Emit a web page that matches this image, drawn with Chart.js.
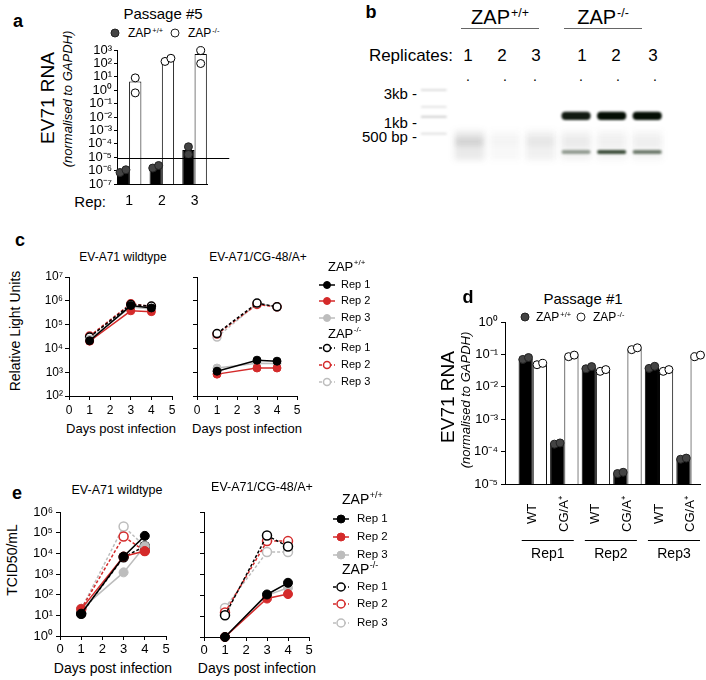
<!DOCTYPE html>
<html>
<head>
<meta charset="utf-8">
<title>ZAP / EV-A71 figure</title>
<script src="https://cdn.jsdelivr.net/npm/chart.js@4.4.0/dist/chart.umd.min.js"></script>
<style>
  html, body { margin: 0; padding: 0; background: #fff; }
  #page { position: relative; width: 706px; height: 680px; overflow: hidden;
          font-family: "Liberation Sans", Arial, Helvetica, sans-serif; color: #000; }
  #page canvas { position: absolute; }
  .t { position: absolute; white-space: nowrap; line-height: 1; }
  .t sup { font-size: 62%; position: relative; top: -0.55em; vertical-align: baseline; margin-left: 1px; }
  .dot { position: absolute; width: 7px; height: 7px; border-radius: 50%; border: 1px solid #222; transform: translate(-50%, -50%); }
  .rule { position: absolute; height: 0; border-top: 1px solid #666; }
</style>
</head>
<body>
<div id="page"></div>
<script>
// ---------- panel a : Passage #5 ----------
const aReps = [1, 2, 3];
const aZapPosBar = [8e-7, 1.7e-6, 3.5e-5];
const aZapPosPts = [[7.2e-7, 1.15e-6], [1.55e-6, 2.4e-6], [6e-5, 1.6e-5]];
const aZapNegBar = [4.5, 190, 500];
const aZapNegPts = [[8.3, 0.63], [140, 240], [900, 98]];
const aCutoff = 9e-6;
const aTicks = [1e-7, 1e-6, 1e-5, 1e-4, 1e-3, 1e-2, 1e-1, 1, 10, 100, 1000];

// ---------- panel b : gel ----------
const gelLanes = ['ladder', 'ZAP+/+ 1', 'ZAP+/+ 2', 'ZAP+/+ 3', 'ZAP-/- 1', 'ZAP-/- 2', 'ZAP-/- 3'];
const ladderBp = [3000, 1500, 1000, 500];
const ladderLevel = [0.22, 0.16, 0.3, 0.2];
const upperBandLanes = [4, 5, 6];
const upperBandBp = [880, 1230];
const upperBandLevel = [0.95, 1, 1];
const lowerBandBp = [218, 257];
const lowerBandLevel = [0.45, 0.85, 0.62];
const smearLanes = [1, 2, 3, 4, 5, 6];
const smearBp = [170, 560];
const smearLevel = [0.12, 0.04, 0.08, 0.07, 0.06, 0.06];
const smearCoreBp = [300, 430];
const smearCoreLevel = [0.12, 0.02, 0.05, 0.04, 0.02, 0.03];

// ---------- panel c : luciferase ----------
const days = [1, 3, 4];
const dayTicks = [0, 1, 2, 3, 4, 5];
const cTicks = [1e2, 1e3, 1e4, 1e5, 1e6, 1e7];
const cWtZapPos = [[2.1e4, 6.3e5, 5e5], [2e4, 3.8e5, 3.5e5], [2.4e4, 5.5e5, 4.5e5]];
const cWtZapNeg = [[3e4, 7e5, 6e5], [3.3e4, 7.5e5, 5.8e5], [2.8e4, 6.5e5, 5.5e5]];
const cCgZapPos = [[1.1e3, 3.2e3, 2.9e3], [8.3e2, 1.5e3, 1.5e3], [1.5e3, 2.4e3, 2.3e3]];
const cCgZapNeg = [[4.2e4, 8e5, 5.6e5], [4e4, 7e5, 5.6e5], [3e4, 7.5e5, 5.5e5]];

// ---------- panel d : Passage #1 ----------
const dCats = [1, 2, 3, 4, 5, 6];
const dCatLabels = ['WT', 'CG/A\u207A', 'WT', 'CG/A\u207A', 'WT', 'CG/A\u207A'];
const dGroups = ['Rep1', 'Rep2', 'Rep3'];
const dZapPosBar = [0.075, 1.8e-4, 0.04, 2.2e-5, 0.04, 6e-5];
const dZapPosPts = [[0.07, 0.08], [1.7e-4, 1.85e-4], [0.036, 0.042], [2.1e-5, 2.3e-5], [0.037, 0.043], [5.8e-5, 6.3e-5]];
const dZapNegBar = [0.05, 0.09, 0.032, 0.15, 0.032, 0.09];
const dZapNegPts = [[0.048, 0.053], [0.085, 0.095], [0.03, 0.034], [0.14, 0.16], [0.03, 0.034], [0.085, 0.095]];
const dTicks = [1e-5, 1e-4, 1e-3, 1e-2, 1e-1, 1];

// ---------- panel e : TCID50 ----------
const eTicks = [1, 10, 1e2, 1e3, 1e4, 1e5, 1e6];
const eWtZapPos = [[12, 7e3, 7e4], [20, 7e3, 1.3e4], [20, 1.2e3, 2.2e4]];
const eWtZapNeg = [[12, 6.5e3, 2.2e4], [20, 6.5e4, 1.3e4], [20, 2e5, 2.2e4]];
const eCgZapPos = [[1, 110, 400], [1, 70, 115], [1, 100, 230]];
const eCgZapNeg = [[11, 7.4e4, 2.2e4], [15, 4e4, 4e4], [25, 1.2e4, 1.2e4]];

// ---------- styling ----------
const FONT = '"Liberation Sans", Arial, Helvetica, sans-serif';
const repColors = ['#000000', '#d42a2a', '#bdbdbd'];
const SUP = {'-': '\u207B', '0': '\u2070', '1': '\u00B9', '2': '\u00B2', '3': '\u00B3', '4': '\u2074',
             '5': '\u2075', '6': '\u2076', '7': '\u2077', '8': '\u2078', '9': '\u2079'};
const pow10Label = v => '10' + String(Math.round(Math.log10(v))).split('').map(c => SUP[c]).join('');

Chart.defaults.font.family = FONT;
Chart.defaults.color = '#000';
Chart.defaults.animation = false;
Chart.defaults.events = [];
Chart.defaults.plugins.legend.display = false;
Chart.defaults.plugins.tooltip.enabled = false;

const page = document.getElementById('page');

function makeCanvas(box) {
  const c = document.createElement('canvas');
  c.width = box.w; c.height = box.h;
  c.style.left = box.x + 'px'; c.style.top = box.y + 'px';
  c.style.width = box.w + 'px'; c.style.height = box.h + 'px';
  page.appendChild(c);
  return c;
}

// box = canvas rect on the page, area = wanted chart area on the page
function frame(box, area) {
  return {
    yWidth: area.l - box.x,
    xHeight: box.y + box.h - area.b,
    padding: {left: 0, top: area.t - box.y, right: box.x + box.w - area.r, bottom: 0}
  };
}

function put(html, x, y, size, opt = {}) {
  const d = document.createElement('div');
  d.className = 't';
  d.innerHTML = html;
  d.style.left = x + 'px';
  d.style.top = y + 'px';
  d.style.fontSize = size + 'px';
  const a = opt.a || 'c';
  const tx = a === 'l' ? '0' : a === 'r' ? '-100%' : '-50%';
  d.style.transform = `translate(${tx}, -50%)` + (opt.rot ? ' rotate(-90deg)' : '');
  if (opt.bold) d.style.fontWeight = 'bold';
  if (opt.italic) d.style.fontStyle = 'italic';
  page.appendChild(d);
}
function dot(x, y, filled) {
  const d = document.createElement('div');
  d.className = 'dot';
  d.style.left = x + 'px'; d.style.top = y + 'px';
  d.style.background = filled ? '#444' : '#fff';
  page.appendChild(d);
}
function rule(x0, x1, y) {
  const d = document.createElement('div');
  d.className = 'rule';
  d.style.left = x0 + 'px'; d.style.top = y + 'px'; d.style.width = (x1 - x0) + 'px';
  page.appendChild(d);
}

const axisLine = {display: true, color: '#000', width: 1};
const tickMarks = len => ({display: true, drawOnChartArea: false, drawTicks: true, tickLength: len, color: '#000', lineWidth: 1});
const noGrid = {display: false, drawTicks: false};

function logAxis(min, max, ticks, width, labels, size, tickLen, pad) {
  return {
    type: 'logarithmic', min, max,
    afterBuildTicks: s => { s.ticks = ticks.map(v => ({value: v})); },
    afterFit: s => { s.width = width; },
    grid: tickMarks(tickLen),
    border: axisLine,
    ticks: {display: labels, autoSkip: false, padding: pad, font: {size}, callback: v => pow10Label(v)}
  };
}

// two replicate dots per bar; close values are spread sideways
function replicatePoints(xs, pts, shift) {
  const out = [];
  xs.forEach((x, i) => {
    const [p, q] = pts[i];
    const j = Math.abs(Math.log10(p) - Math.log10(q)) < 0.3 ? 0.09 : 0;
    out.push({x: x + shift - j, y: p}, {x: x + shift + j, y: q});
  });
  return out;
}

const cutoffPlugin = {
  id: 'cutoff',
  afterDatasetsDraw(chart, args, o) {
    if (o.value === undefined) return;
    const {ctx, scales: {x, y}} = chart;
    const py = Math.round(y.getPixelForValue(o.value)) + 0.5;
    ctx.save();
    ctx.strokeStyle = '#000'; ctx.lineWidth = 1;
    ctx.beginPath(); ctx.moveTo(x.left, py); ctx.lineTo(x.getPixelForValue(o.xEnd), py); ctx.stroke();
    ctx.restore();
  }
};

function drawSupText(ctx, base, sup, x, y, size) {
  ctx.font = size + 'px ' + FONT;
  ctx.textAlign = 'left'; ctx.textBaseline = 'middle'; ctx.fillStyle = '#000';
  ctx.fillText(base, x, y);
  const w = ctx.measureText(base).width;
  ctx.font = Math.round(size * 0.62) + 'px ' + FONT;
  ctx.fillText(sup, x + w + 0.5, y - size * 0.3);
}

const zapLegend = {
  id: 'zapLegend',
  afterDraw(chart, args, o) {
    if (!o.rows) return;
    const {ctx, chartArea} = chart;
    const xm = chartArea.right + o.markerDx;
    ctx.save();
    o.rows.forEach(row => {
      const y = chartArea.top + row.dy;
      if (row.head) {
        drawSupText(ctx, 'ZAP', row.head, chartArea.right + o.headDx, y, o.headSize);
        return;
      }
      const ds = chart.data.datasets[row.ds];
      ctx.strokeStyle = ds.borderColor; ctx.lineWidth = ds.borderWidth;
      ctx.setLineDash(ds.borderDash || []);
      ctx.beginPath(); ctx.moveTo(xm - 8, y); ctx.lineTo(xm + 8, y); ctx.stroke();
      ctx.setLineDash([]);
      ctx.beginPath(); ctx.arc(xm, y, o.r, 0, 2 * Math.PI);
      ctx.fillStyle = ds.pointBackgroundColor; ctx.fill();
      ctx.lineWidth = ds.pointBorderWidth; ctx.strokeStyle = ds.pointBorderColor; ctx.stroke();
      ctx.fillStyle = '#000'; ctx.font = o.textSize + 'px ' + FONT;
      ctx.textAlign = 'left'; ctx.textBaseline = 'middle';
      ctx.fillText(ds.label, chartArea.right + o.textDx, y);
    });
    ctx.restore();
  }
};

const gelBlur = {
  id: 'gelBlur',
  beforeDatasetDraw(chart, args) {
    const b = chart.data.datasets[args.index].blur;
    chart.ctx.filter = b ? `blur(${b}px)` : 'none';
  },
  afterDatasetDraw(chart) { chart.ctx.filter = 'none'; }
};

const dLabelsPlugin = {
  id: 'dLabels',
  afterDraw(chart) {
    const {ctx, scales: {x, y}} = chart;
    ctx.save();
    ctx.fillStyle = '#000'; ctx.strokeStyle = '#000'; ctx.lineWidth = 1;
    ctx.font = '13px ' + FONT;
    ctx.textAlign = 'center'; ctx.textBaseline = 'middle';
    dCats.forEach((c, i) => {
      ctx.save();
      ctx.translate(x.getPixelForValue(c), y.bottom + 30);
      ctx.rotate(-Math.PI / 2);
      ctx.fillText(dCatLabels[i], 0, 0);
      ctx.restore();
    });
    ctx.font = '14px ' + FONT;
    dGroups.forEach((g, k) => {
      const x0 = x.getPixelForValue(dCats[2 * k] - 0.35);
      const x1 = x.getPixelForValue(dCats[2 * k + 1] + 0.3);
      const ly = Math.round(y.bottom + 56) + 0.5;
      ctx.beginPath(); ctx.moveTo(x0, ly); ctx.lineTo(x1, ly); ctx.stroke();
      ctx.fillText(g, (x0 + x1) / 2, y.bottom + 70);
    });
    ctx.restore();
  }
};

// ---------- bar + dots charts (a, d) ----------
function rnaChart(box, area, xs, xMin, xMax, cat, posBar, posPts, negBar, negPts, yMin, yMax, yTicks, opt) {
  const f = frame(box, area);
  const shift = cat / 4;
  return new Chart(makeCanvas(box), {
    type: 'bar',
    data: {datasets: [
      {type: 'scatter', data: replicatePoints(xs, posPts, -shift), pointRadius: 4,
       pointBackgroundColor: '#444', pointBorderColor: '#222', pointBorderWidth: 1, clip: false},
      {type: 'scatter', data: replicatePoints(xs, negPts, shift), pointRadius: 4,
       pointBackgroundColor: '#fff', pointBorderColor: '#000', pointBorderWidth: 1, clip: false},
      {label: 'ZAP+/+', data: xs.map((x, i) => ({x, y: posBar[i]})), backgroundColor: '#000',
       borderColor: '#000', borderWidth: 1, barPercentage: 1, categoryPercentage: cat},
      {label: 'ZAP-/-', data: xs.map((x, i) => ({x, y: negBar[i]})), backgroundColor: '#fff',
       borderColor: '#000', borderWidth: 1, barPercentage: 1, categoryPercentage: cat}
    ]},
    options: {
      responsive: false,
      layout: {padding: f.padding},
      scales: {
        x: {type: 'linear', min: xMin, max: xMax, offset: false,
            afterBuildTicks: s => { s.ticks = xs.map(v => ({value: v})); },
            afterFit: s => { s.height = f.xHeight; },
            grid: noGrid, border: axisLine,
            ticks: {display: opt.xLabels, padding: 9, font: {size: 14}, maxRotation: 0, autoSkip: false}},
        y: logAxis(yMin, yMax, yTicks, f.yWidth, true, opt.yFont, opt.tickLen, opt.tickPad)
      },
      plugins: {cutoff: opt.cutoff || {}}
    },
    plugins: opt.plugins
  });
}

// ---------- growth curve charts (c, e) ----------
function growthDatasets(pos, neg, r) {
  const out = [];
  pos.forEach((vals, k) => out.push({
    label: 'Rep ' + (k + 1), data: days.map((d, i) => ({x: d, y: vals[i]})),
    borderColor: repColors[k], borderWidth: 1.5, pointRadius: r,
    pointBackgroundColor: repColors[k], pointBorderColor: repColors[k], pointBorderWidth: 1, clip: false
  }));
  neg.forEach((vals, k) => out.push({
    label: 'Rep ' + (k + 1), data: days.map((d, i) => ({x: d, y: vals[i]})),
    borderColor: repColors[k], borderWidth: 1.5, borderDash: [3, 2], pointRadius: r,
    pointBackgroundColor: '#fff', pointBorderColor: repColors[k], pointBorderWidth: 1.5, clip: false
  }));
  return out;
}

function growthChart(box, area, datasets, yMin, yMax, yTicks, opt) {
  const f = frame(box, area);
  return new Chart(makeCanvas(box), {
    type: 'line',
    data: {datasets},
    options: {
      responsive: false,
      layout: {padding: f.padding},
      scales: {
        x: {type: 'linear', min: 0, max: 5,
            afterBuildTicks: s => { s.ticks = dayTicks.map(v => ({value: v})); },
            afterFit: s => { s.height = f.xHeight; },
            grid: tickMarks(4), border: axisLine,
            ticks: {padding: opt.xPad, font: {size: opt.xFont}, maxRotation: 0, autoSkip: false}},
        y: logAxis(yMin, yMax, yTicks, f.yWidth, opt.yLabels, opt.yFont, 4, opt.yPad)
      },
      plugins: {zapLegend: opt.legend || {}}
    },
    plugins: [zapLegend]
  });
}

// ================= panel a =================
put('a', 18, 21, 18, {bold: true});
put('Passage #5', 163, 13, 15);
dot(115, 33, true); put('ZAP<sup>+/+</sup>', 128, 33, 12, {a: 'l'});
dot(175, 33, false); put('ZAP<sup>-/-</sup>', 188, 33, 12, {a: 'l'});
put('EV71 RNA', 47, 98, 19, {rot: true});
put('(normalised to GAPDH)', 67, 99, 13, {rot: true, italic: true});
put('Rep:', 106, 201, 15, {a: 'r'});
rnaChart({x: 50, y: 36, w: 190, h: 179}, {l: 117, t: 50, r: 207, b: 184},
  aReps, 0.63, 3.38, 0.75, aZapPosBar, aZapPosPts, aZapNegBar, aZapNegPts, 1e-7, 1e3, aTicks,
  {xLabels: true, yFont: 13, tickLen: 3, tickPad: 2, cutoff: {value: aCutoff, xEnd: 4.06}, plugins: [cutoffPlugin]});

// ================= panel b =================
put('b', 371, 12, 18, {bold: true});
put('ZAP<sup>+/+</sup>', 500, 17, 20);
put('ZAP<sup>-/-</sup>', 603, 17, 20);
rule(461, 539, 28); rule(564, 642, 28);
put('Replicates:', 453, 55, 17, {a: 'r'});
[[468, '1'], [502, '2'], [536, '3'], [582, '1'], [616, '2'], [653, '3']].forEach(([x, s]) => put(s, x, 55, 17));
[468, 505, 535, 581, 618, 655].forEach(x => put('.', x, 76, 14));
put('3kb -', 417, 93, 15, {a: 'r'});
put('1kb -', 417, 122, 15, {a: 'r'});
put('500 bp -', 417, 136, 15, {a: 'r'});

(function gel() {
  const box = {x: 400, y: 70, w: 280, h: 105};
  const band = (lanes, range, levels, rgb) => ({
    data: lanes.map(l => ({x: gelLanes[l], y: range})),
    backgroundColor: levels.map(v => `rgba(${rgb},${v})`)
  });
  new Chart(makeCanvas(box), {
    type: 'bar',
    data: {labels: gelLanes, datasets: [
      Object.assign(band(upperBandLanes, upperBandBp, upperBandLevel, '4,14,4'),
        {barPercentage: 0.82, borderRadius: 4, blur: 0.8}),
      Object.assign(band(upperBandLanes, lowerBandBp, lowerBandLevel, '30,50,28'),
        {barPercentage: 0.82, borderRadius: 2, blur: 0.8}),
      {data: ladderBp.map(bp => ({x: gelLanes[0], y: [bp / 1.04, bp * 1.04]})),
       backgroundColor: ladderLevel.map(v => `rgba(90,90,90,${v})`), barPercentage: 0.72, blur: 0.8},
      Object.assign(band(smearLanes, smearCoreBp, smearCoreLevel, '60,60,60'),
        {barPercentage: 0.8, blur: 2.5}),
      Object.assign(band(smearLanes, smearBp, smearLevel, '70,70,70'),
        {barPercentage: 0.84, blur: 3})
    ]},
    options: {
      responsive: false,
      layout: {padding: {left: 16, right: 15, top: 13, bottom: 12}},
      datasets: {bar: {grouped: false, categoryPercentage: 1, borderSkipped: false, clip: false}},
      scales: {
        x: {display: false},
        y: {display: false, type: 'logarithmic', min: 150, max: 4000}
      }
    },
    plugins: [gelBlur]
  });
})();

// ================= panel c =================
put('c', 20, 240, 18, {bold: true});
put('EV-A71 wildtype', 123, 257, 12);
put('EV-A71/CG-48/A+', 258, 257, 12);
put('Relative Light Units', 15, 331, 14, {rot: true});
put('Days post infection', 121, 428, 13);
put('Days post infection', 247, 428, 13);
growthChart({x: 20, y: 255, w: 165, h: 170}, {l: 69, t: 277, r: 172, b: 396},
  growthDatasets(cWtZapPos, cWtZapNeg, 4), 1e2, 1e7, cTicks,
  {yLabels: true, yFont: 12, yPad: 2, xFont: 12, xPad: 3});
growthChart({x: 180, y: 255, w: 250, h: 170}, {l: 197, t: 277, r: 297, b: 396},
  growthDatasets(cCgZapPos, cCgZapNeg, 4), 1e2, 1e7, cTicks,
  {yLabels: false, yFont: 12, yPad: 2, xFont: 12, xPad: 3,
   legend: {markerDx: 30, textDx: 44, headDx: 31, headSize: 13, textSize: 11, r: 3.5,
     rows: [{head: '+/+', dy: -10}, {ds: 0, dy: 8}, {ds: 1, dy: 24}, {ds: 2, dy: 41},
            {head: '-/-', dy: 57}, {ds: 3, dy: 71}, {ds: 4, dy: 88}, {ds: 5, dy: 105}]}});

// ================= panel d =================
put('d', 468, 297, 18, {bold: true});
put('Passage #1', 583, 298, 15);
dot(525, 317, true); put('ZAP<sup>+/+</sup>', 536, 317, 12, {a: 'l'});
dot(581, 317, false); put('ZAP<sup>-/-</sup>', 593, 317, 12, {a: 'l'});
put('EV71 RNA', 447, 397, 19, {rot: true});
put('(normalised to GAPDH)', 465, 400, 13, {rot: true, italic: true});
rnaChart({x: 440, y: 300, w: 266, h: 270}, {l: 505, t: 322, r: 700, b: 484},
  dCats, 0.12, 6.3, 0.9, dZapPosBar, dZapPosPts, dZapNegBar, dZapNegPts, 1e-5, 1, dTicks,
  {xLabels: false, yFont: 13, tickLen: 4, tickPad: 3, plugins: [dLabelsPlugin]});

// ================= panel e =================
put('e', 17, 493, 18, {bold: true});
put('EV-A71 wildtype', 117, 490, 12.5);
put('EV-A71/CG-48/A+', 262, 487, 12.5);
put('TCID50/mL', 12, 560, 14, {rot: true});
put('Days post infection', 113, 668, 14);
put('Days post infection', 257, 668, 14);
growthChart({x: 15, y: 488, w: 168, h: 172}, {l: 60, t: 512, r: 166, b: 636},
  growthDatasets(eWtZapPos, eWtZapNeg, 4.5), 1, 1e6, eTicks,
  {yLabels: true, yFont: 13, yPad: 3, xFont: 13, xPad: 2});
growthChart({x: 180, y: 488, w: 250, h: 172}, {l: 204, t: 512, r: 309, b: 637},
  growthDatasets(eCgZapPos, eCgZapNeg, 4.5), 1, 1e6, eTicks,
  {yLabels: false, yFont: 13, yPad: 3, xFont: 13, xPad: 2,
   legend: {markerDx: 32, textDx: 48, headDx: 33, headSize: 14, textSize: 11.5, r: 4,
     rows: [{head: '+/+', dy: -12}, {ds: 0, dy: 7}, {ds: 1, dy: 25}, {ds: 2, dy: 43},
            {head: '-/-', dy: 58}, {ds: 3, dy: 75}, {ds: 4, dy: 92}, {ds: 5, dy: 111}]}});
</script>
</body>
</html>
